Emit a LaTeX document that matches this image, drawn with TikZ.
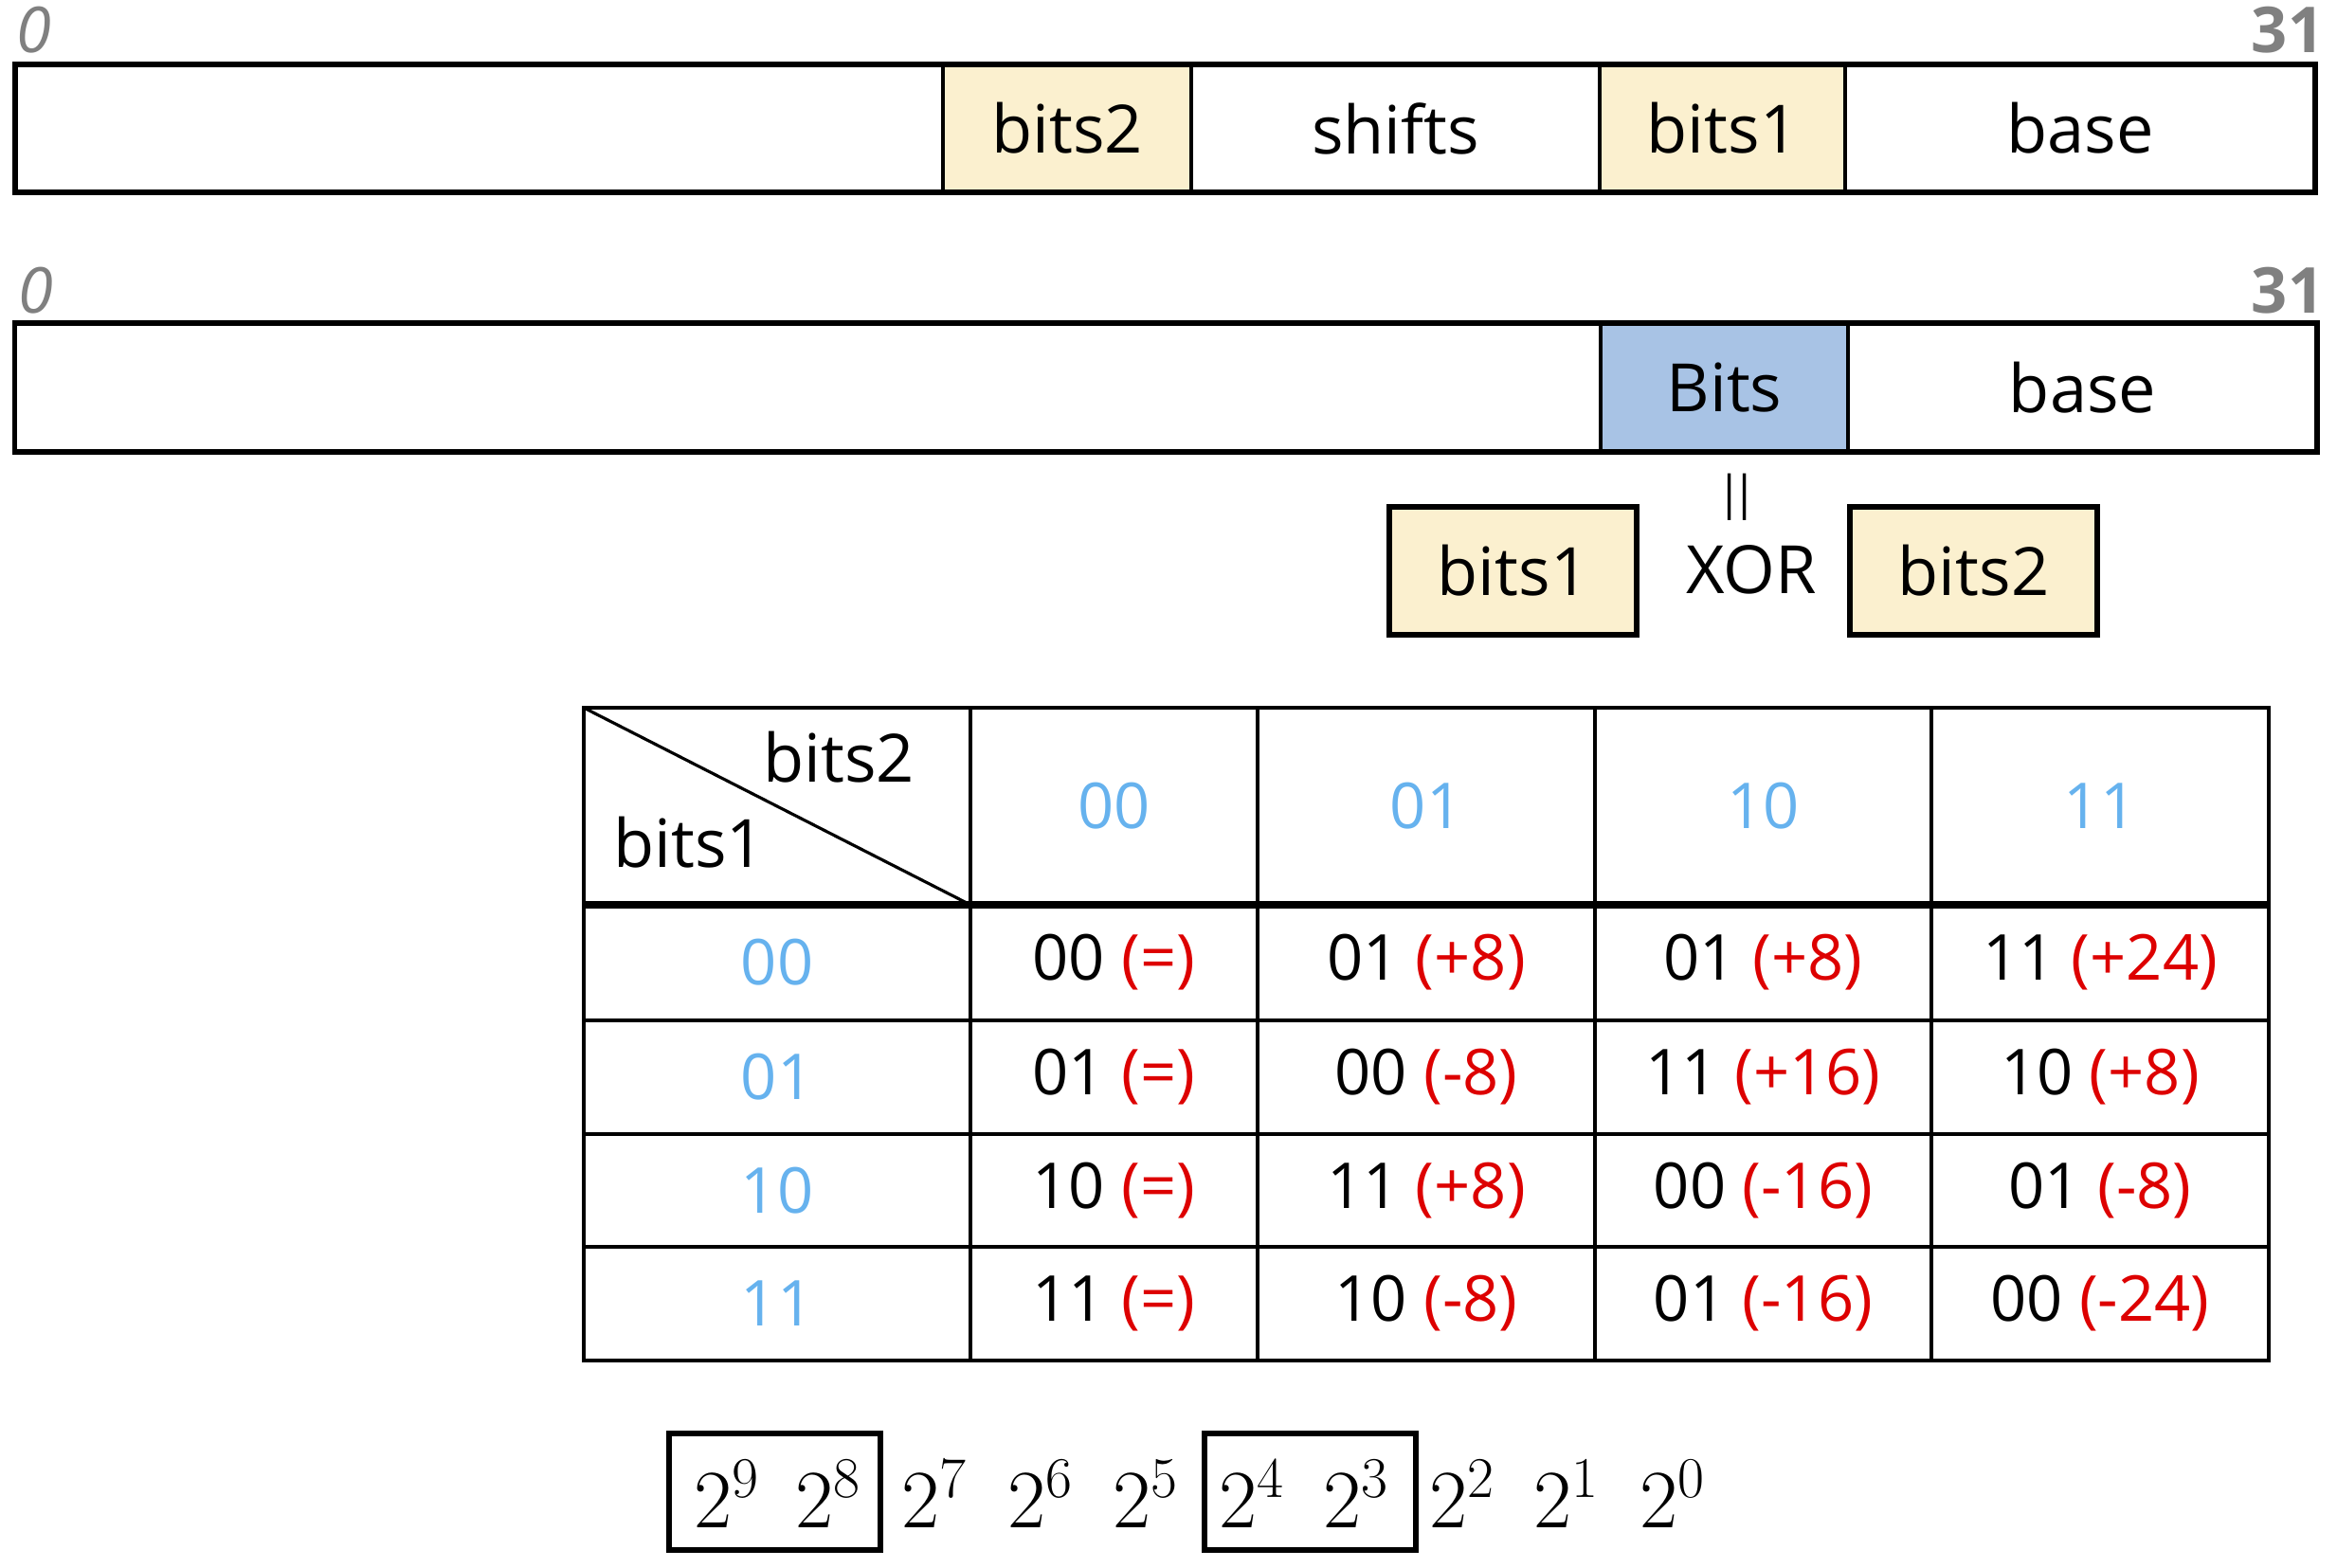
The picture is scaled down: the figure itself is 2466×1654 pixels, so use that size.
\documentclass[tikz,border=0pt]{standalone}
\usepackage{fontspec}
\setmainfont{Open Sans}
\definecolor{cream}{HTML}{FBF0CF}
\definecolor{bluefill}{HTML}{A8C3E5}
\definecolor{bluetxt}{HTML}{66B2EE}
\definecolor{redtxt}{HTML}{DD0000}
\definecolor{graytxt}{HTML}{808080}
\begin{document}
\begin{tikzpicture}[x=0.01cm,y=-0.01cm,
  seg/.style={draw, line width=1pt, inner sep=0pt, outer sep=0pt, font=\fontsize{20}{24}\selectfont},
  lbl/.style={font=\fontsize{20}{24}\selectfont, inner sep=0pt},
  idx/.style={font=\fontsize{19}{22}\selectfont, text=graytxt, inner sep=0pt},
  cellt/.style={font=\fontsize{19}{22}\selectfont, inner sep=0pt},
  hd/.style={font=\fontsize{19}{22}\selectfont, text=bluetxt, inner sep=0pt},
  grid/.style={line width=0.9pt},
  pw/.style={font=\fontsize{25}{30}\selectfont, inner sep=0pt},
  pbox/.style={draw, line width=1.5pt, inner sep=0pt, minimum width=2.23cm, minimum height=1.23cm}
]
\useasboundingbox (0,0) rectangle (2466,1654);

% ---- top register ----
\node[idx] (i0a) at (36,32) {\itshape 0};
\node[idx] (i31a) at (2414,32) {\bfseries 31};
\node[seg, minimum width=9.79cm, minimum height=1.35cm] (t0) at (505.5,135.5) {};
\node[seg, fill=cream, minimum width=2.62cm, minimum height=1.35cm] (t1) at (1126,135.5) {bits2};
\node[seg, minimum width=4.31cm, minimum height=1.35cm] (t2) at (1472.5,135.5) {shifts};
\node[seg, fill=cream, minimum width=2.59cm, minimum height=1.35cm] (t3) at (1817.5,135.5) {bits1};
\node[seg, minimum width=4.96cm, minimum height=1.35cm] (t4) at (2195,135.5) {base};
\draw[line width=1.6pt] (t0.north west) rectangle (t4.south east);

% ---- second register ----
\node[idx] (i0b) at (38,307) {\itshape 0};
\node[idx] (i31b) at (2414,307) {\bfseries 31};
\node[seg, minimum width=16.73cm, minimum height=1.36cm] (s0) at (852.5,409) {};
\node[seg, fill=bluefill, minimum width=2.61cm, minimum height=1.36cm] (s1) at (1819.5,409) {Bits};
\node[seg, minimum width=4.95cm, minimum height=1.36cm] (s2) at (2197.5,409) {base};
\draw[line width=1.6pt] (s0.north west) rectangle (s2.south east);

% ---- XOR ----
\node[inner sep=0pt, font=\fontsize{14}{16}\selectfont] (eq) at (1833,525) {|\kern-3pt|};
\node[seg, line width=1.5pt, fill=cream, minimum width=2.61cm, minimum height=1.35cm] (x1) at (1596.5,602.5) {bits1};
\node[lbl] (xor) at (1848,601) {XOR};
\node[seg, line width=1.5pt, fill=cream, minimum width=2.61cm, minimum height=1.35cm] (x2) at (2082.5,602.5) {bits2};

% ---- table ----
\coordinate (tl) at (616,747);
\coordinate (hc) at (1024,955);
\draw[grid] (616,747) rectangle (2394,1436);
\foreach \x in {1024,1327,1683,2038} \draw[grid] (\x,747) -- (\x,1436);
\foreach \y in {1077,1197,1316} \draw[grid] (616,\y) -- (2394,\y);
\draw[line width=2pt] (616,955) -- (2394,955);
\draw[grid] (tl) -- (hc);
\node[lbl] (hb2) at (885,799) {bits2};
\node[lbl] (hb1) at (727,889) {bits1};

\node[hd] (h1) at (1175.5,851) {00};
\node[hd] (h2) at (1505,851) {01};
\node[hd] (h3) at (1860.5,851) {10};
\node[hd] (h4) at (2216,851) {11};

\node[hd] (r1) at (820,1016) {00};
\node[hd] (r2) at (820,1137) {01};
\node[hd] (r3) at (820,1256.5) {10};
\node[hd] (r4) at (820,1376) {11};

\node[cellt] (c11) at (1175.5,1016) {00 \textcolor{redtxt}{(=)}};
\node[cellt] (c12) at (1505,1016) {01 \textcolor{redtxt}{(+8)}};
\node[cellt] (c13) at (1860.5,1016) {01 \textcolor{redtxt}{(+8)}};
\node[cellt] (c14) at (2216,1016) {11 \textcolor{redtxt}{(+24)}};

\node[cellt] (c21) at (1175.5,1137) {01 \textcolor{redtxt}{(=)}};
\node[cellt] (c22) at (1505,1137) {00 \textcolor{redtxt}{(-8)}};
\node[cellt] (c23) at (1860.5,1137) {11 \textcolor{redtxt}{(+16)}};
\node[cellt] (c24) at (2216,1137) {10 \textcolor{redtxt}{(+8)}};

\node[cellt] (c31) at (1175.5,1256.5) {10 \textcolor{redtxt}{(=)}};
\node[cellt] (c32) at (1505,1256.5) {11 \textcolor{redtxt}{(+8)}};
\node[cellt] (c33) at (1860.5,1256.5) {00 \textcolor{redtxt}{(-16)}};
\node[cellt] (c34) at (2216,1256.5) {01 \textcolor{redtxt}{(-8)}};

\node[cellt] (c41) at (1175.5,1376) {11 \textcolor{redtxt}{(=)}};
\node[cellt] (c42) at (1505,1376) {10 \textcolor{redtxt}{(-8)}};
\node[cellt] (c43) at (1860.5,1376) {01 \textcolor{redtxt}{(-16)}};
\node[cellt] (c44) at (2216,1376) {00 \textcolor{redtxt}{(-24)}};

% ---- powers ----
\node[pbox] (pb1) at (817.5,1574.5) {};
\node[pbox] (pb2) at (1382.5,1574.5) {};
\foreach \e/\x in {9/767,8/874,7/986,6/1098,5/1209,4/1321,3/1431,2/1543,1/1653,0/1765}
  \node[pw] (p\e) at (\x,1577) {$2^{\e}$};
\end{tikzpicture}
\end{document}
